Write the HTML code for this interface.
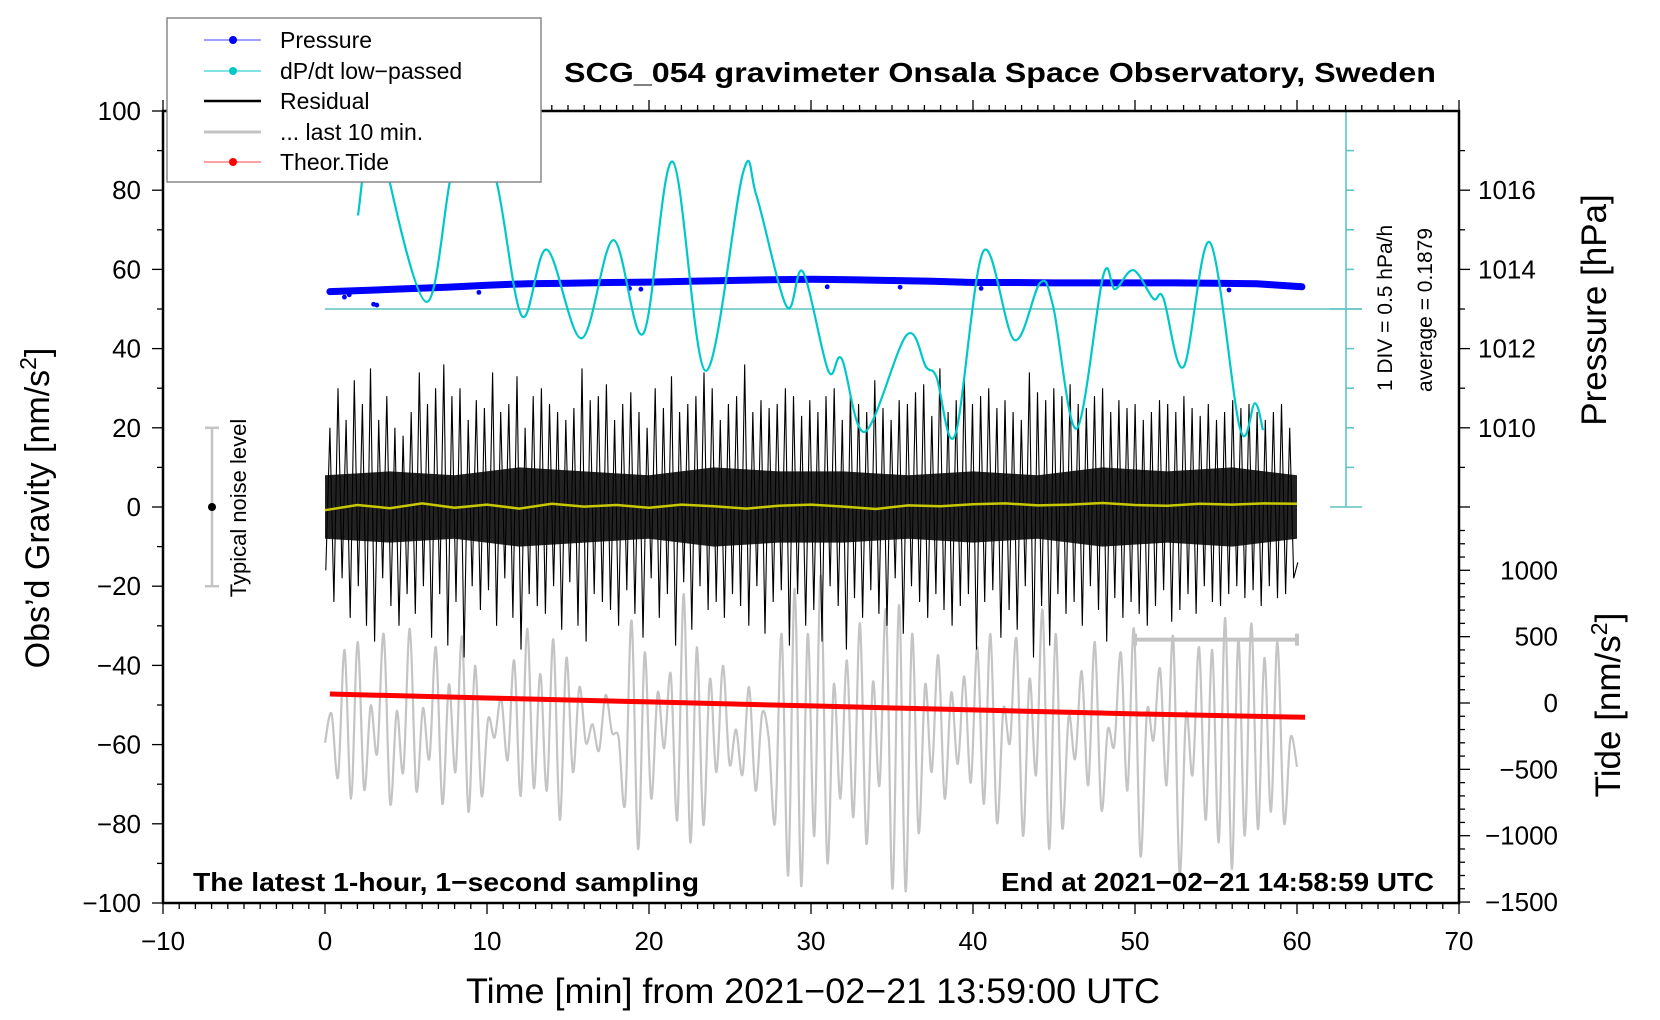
<!DOCTYPE html>
<html><head><meta charset="utf-8"><style>
html,body{margin:0;padding:0;background:#fff}
svg{display:block;font-family:"Liberation Sans",Arial,sans-serif}
</style></head><body>
<svg id="chart" width="1660" height="1020" viewBox="0 0 1660 1020" xmlns="http://www.w3.org/2000/svg">
<defs><clipPath id="plotclip"><rect x="163" y="111" width="1296" height="792"/></clipPath></defs>
<rect x="0" y="0" width="1660" height="1020" fill="#fff"/>
<g id="marks" clip-path="url(#plotclip)"></g>
<g id="axes"></g>
<g id="labels"></g>
</svg>
<script>
// ---- data ----
const cyanT = [2.04,3.2,4.0,6.28,7.7,8.8,10.6,12.16,13.7,15.84,17.8,19.65,21.46,23.5,25.8,26.65,28.5,29.5,31.07,31.9,33.33,35.9,37.1,37.75,38.9,40.64,42.55,44.14,44.95,46.4,48.04,48.77,49.9,51.13,51.75,53.0,54.63,56.48,57.4,57.9];
const cyanRate = [1.18,2.9,1.6,0.09,1.6,2.8,1.6,-0.09,0.75,-0.37,0.87,-0.31,1.86,-0.78,1.72,1.42,0.03,0.47,-0.78,-0.63,-1.55,-0.33,-0.73,-0.86,-1.59,0.73,-0.39,0.33,0.03,-1.51,0.42,0.25,0.49,0.13,0.14,-0.73,0.84,-1.51,-1.19,-1.53];
const pressT = [0.3,2.5,5,7.5,10,12.5,15,17.5,20,22.5,25,27.5,30,32.5,35,37.5,40,42.5,45,47.5,50,52.5,55,57.5,60.3];
const pressHPa = [1013.44,1013.47,1013.51,1013.55,1013.60,1013.64,1013.65,1013.67,1013.68,1013.70,1013.72,1013.74,1013.75,1013.74,1013.72,1013.70,1013.67,1013.67,1013.66,1013.66,1013.66,1013.66,1013.65,1013.64,1013.56];
const pressOutT = [1.2,1.5,3.0,3.2,9.5,18.8,19.5,31.0,35.5,40.5,55.8];
const pressOutHPa = [1013.30,1013.36,1013.12,1013.10,1013.42,1013.52,1013.50,1013.56,1013.55,1013.52,1013.48];
const tideT = [0.3,10,20,30,40,50,60.5];
const tideVal = [68,38,8,-22,-52,-82,-108];
const coreT = [0,4,8,12,16,20,24,28,32,36,40,44,48,52,56,60];
const coreAmp = [8,9,8,10,9,8,10,9,9,8,9,8,10,9,10,8];
const residual = [
-16,20,-24,30,-18,22,-28,32,-20,26,-30,35,-34,22,-18,28,-25,20,-30,18,
-22,24,-27,34,-20,26,-33,30,-22,36,-35,28,-24,30,-38,22,-20,27,-26,25,
-21,34,-30,24,-18,26,-28,33,-36,20,-22,28,-25,30,-27,26,-20,24,-31,22,
-19,25,-30,35,-34,27,-22,28,-24,31,-26,22,-30,26,-21,29,-27,24,-33,20,
-18,30,-28,25,-22,33,-35,24,-19,26,-31,28,-20,34,-26,30,-24,22,-28,26,
-22,28,-25,36,-30,24,-20,27,-32,25,-24,26,-21,30,-35,28,-22,23,-30,27,
-26,24,-34,28,-20,30,-25,22,-36,29,-23,26,-28,24,-21,32,-27,25,-30,22,
-18,27,-32,26,-20,29,-24,31,-28,23,-22,35,-26,24,-30,27,-25,33,-22,26,
-36,28,-24,30,-21,25,-33,27,-26,24,-31,22,-20,34,-38,29,-25,27,-35,30,
-22,28,-27,31,-24,26,-30,25,-20,28,-26,30,-34,24,-23,27,-28,25,-24,26,
-27,22,-30,24,-25,27,-21,26,-29,24,-26,28,-22,25,-27,23,-20,26,-24,22,
-25,24,-22,27,-20,25,-23,26,-21,24,-25,22,-20,24,-23,26,-22,20,-18,-14];
const yellowT = [0,2,4,6,8,10,12,14,16,18,20,22,24,26,28,30,32,34,36,38,40,42,44,46,48,50,52,54,56,58,60];
const yellowV = [-0.8,0.5,-0.3,0.9,-0.2,0.6,-0.4,0.8,0.1,0.5,-0.2,0.6,0.2,-0.4,0.3,0.6,0.1,-0.5,0.4,0.2,0.7,0.9,0.4,0.6,1.0,0.5,0.3,0.8,0.6,0.9,0.8];
const greyVals = [
-300,-80,-560,400,-720,460,-650,-20,-380,520,-760,-60,-520,560,-660,-40,-420,420,-760,140,
-520,500,-820,280,-700,-120,-260,40,-430,320,-700,560,-640,220,-660,480,-880,340,-520,120,
-300,-160,-360,60,-220,-260,-760,620,-1100,380,-720,80,-340,220,-880,820,-1050,420,-920,180,
-520,280,-460,-200,-540,120,-660,-80,-260,-900,520,-1300,860,-1380,520,-1000,960,-1200,140,-720,
320,-860,600,-1060,160,-620,700,-1400,740,-1420,520,-980,140,-520,360,-720,80,-460,200,-600,
420,-760,520,-900,-40,-300,480,-1000,180,-540,700,-1100,520,-940,-100,-420,240,-620,460,-800,
-200,-320,380,-660,560,-1150,-60,-280,260,-620,500,-1280,-80,-540,420,-880,400,-1050,640,-1250,
480,-1000,600,-950,340,-820,460,-900,-260,-480];
const xTicks = [-10,0,10,20,30,40,50,60,70];
const yTicks = [100,80,60,40,20,0,-20,-40,-60,-80,-100];
const pTicks = [1016,1014,1012,1010];
const tTicks = [1000,500,0,-500,-1000,-1500];

// ---- scales ----
const NS='http://www.w3.org/2000/svg';
const xs = t => 325 + t*16.2;
const yg = g => 507 - g*3.96;
const yp = p => yg(80 + (p-1016)*10);
const yt = v => 703 - v*0.1327;
const yc = r => yg(50 + r*20);
const greyT = i => i*60/(greyVals.length-1);
const residT = i => 0.05 + i*60/(residual.length-1);

function mk(tag, attrs, parent){const e=document.createElementNS(NS,tag);for(const k in attrs)e.setAttribute(k,attrs[k]);parent.appendChild(e);return e;}
function smooth(pts){let d='M'+pts[0][0].toFixed(1)+','+pts[0][1].toFixed(1);
 for(let i=0;i<pts.length-1;i++){const p0=pts[Math.max(0,i-1)],p1=pts[i],p2=pts[i+1],p3=pts[Math.min(pts.length-1,i+2)];
 const c1=[p1[0]+(p2[0]-p0[0])/6,p1[1]+(p2[1]-p0[1])/6],c2=[p2[0]-(p3[0]-p1[0])/6,p2[1]-(p3[1]-p1[1])/6];
 d+=` C${c1[0].toFixed(1)},${c1[1].toFixed(1)} ${c2[0].toFixed(1)},${c2[1].toFixed(1)} ${p2[0].toFixed(1)},${p2[1].toFixed(1)}`;}return d;}
function lin(pts){return 'M'+pts.map(p=>p[0].toFixed(1)+','+p[1].toFixed(1)).join(' L');}

const marks=document.getElementById('marks'), axes=document.getElementById('axes'), labels=document.getElementById('labels');

let e=mk('line',{x1:xs(0),y1:yc(0),x2:1362,y2:yc(0),stroke:'#5fc4c4','stroke-width':1.6},marks);



e=mk('path',{d:smooth(greyVals.map((v,i)=>[xs(greyT(i)),yt(v)])),fill:'none',stroke:'#c4c4c4','stroke-width':2.2},marks);



const up=coreT.map((t,i)=>[xs(t),yg(coreAmp[i])]), dn=coreT.map((t,i)=>[xs(t),yg(-coreAmp[i])]).reverse();
e=mk('path',{d:lin(up.concat(dn))+'Z',fill:'#222'},marks);


e=mk('path',{d:lin(residual.map((v,i)=>[xs(residT(i)),yg(v)])),fill:'none',stroke:'#000','stroke-width':1.1},marks);


e=mk('path',{d:lin(yellowT.map((t,i)=>[xs(t),yg(yellowV[i])])),fill:'none',stroke:'#c8c800','stroke-width':2.5},marks);



e=mk('path',{d:lin(tideT.map((t,i)=>[xs(t),yt(tideVal[i])])),fill:'none',stroke:'#ff0000','stroke-width':5},marks);



e=mk('path',{d:lin(pressT.map((t,i)=>[xs(t),yp(pressHPa[i])])),fill:'none',stroke:'#0000ff','stroke-width':7,'stroke-linecap':'round'},marks);


pressOutT.forEach((t,i)=>{const c=mk('circle',{cx:xs(t),cy:yp(pressOutHPa[i]),r:2.4,fill:'#0000ff'},marks);

});

e=mk('path',{d:smooth(cyanT.map((t,i)=>[xs(t),yc(cyanRate[i])])),fill:'none',stroke:'#00c8c8','stroke-width':2.2},marks);



const sb=mk('g',{stroke:'#5fc4c4','stroke-width':1.6},axes);


mk('line',{x1:1346,y1:111,x2:1346,y2:507},sb);
for(let k=0;k<=10;k++){const y=111+k*39.6;const long=(k===0||k===5||k===10);mk('line',{x1:long?1330:1346,y1:y,x2:long?1362:1354,y2:y},sb);}

const gb=mk('g',{stroke:'#c4c4c4','stroke-width':4},marks);


mk('line',{x1:xs(50),y1:yg(-33.5),x2:xs(60),y2:yg(-33.5)},gb);
mk('line',{x1:xs(50),y1:yg(-33.5)-6,x2:xs(50),y2:yg(-33.5)+6},gb);
mk('line',{x1:xs(60),y1:yg(-33.5)-6,x2:xs(60),y2:yg(-33.5)+6},gb);

const nb=mk('g',{stroke:'#c4c4c4','stroke-width':2.5},axes);


mk('line',{x1:212,y1:yg(20),x2:212,y2:yg(-20)},nb);
mk('line',{x1:205,y1:yg(20),x2:219,y2:yg(20)},nb);
mk('line',{x1:205,y1:yg(-20),x2:219,y2:yg(-20)},nb);
mk('circle',{cx:212,cy:yg(0),r:4,fill:'#000',stroke:'none'},nb);

e=mk('rect',{x:163,y:111,width:1296,height:792,fill:'none',stroke:'#000','stroke-width':2.5},axes);


const tk=mk('g',{stroke:'#000','stroke-width':1.3},axes);


for(let t=-10;t<=70;t++){const x=xs(t),M=(t%10===0);mk('line',{x1:x,y1:903,x2:x,y2:903+(M?11:6)},tk);mk('line',{x1:x,y1:111,x2:x,y2:111-(M?11:6)},tk);}
for(let g=-100;g<=100;g+=10){const y=yg(g),M=(g%20===0);mk('line',{x1:163,y1:y,x2:163-(M?11:6),y2:y},tk);}
for(let p=1008;p<=1017;p++){const y=yp(p),M=(p%2===0);mk('line',{x1:1459,y1:y,x2:1459+(M?11:6),y2:y},tk);}
for(let v=-1500;v<=1300;v+=100){const y=yt(v),M=(v%500===0);mk('line',{x1:1459,y1:y,x2:1459+(M?11:6),y2:y},tk);}

function txt(s,attrs,name){const t=mk('text',attrs,labels);t.textContent=s;return t;}
xTicks.forEach(v=>txt(v<0?'\u2212'+(-v):String(v),{x:xs(v),y:950,'font-size':26,'text-anchor':'middle'},'x-tick-label'));
yTicks.forEach(v=>txt(v<0?'\u2212'+(-v):String(v),{x:141,y:yg(v)+9,'font-size':26,'text-anchor':'end'},'y-tick-label'));
pTicks.forEach(v=>txt(String(v),{x:1478,y:yp(v)+9,'font-size':26,'text-anchor':'start'},'pressure-tick-label'));
tTicks.forEach(v=>txt(v<0?'\u2212'+(-v):String(v),{x:1558,y:yt(v)+9,'font-size':26,'text-anchor':'end'},'tide-tick-label'));
</script>
<script>
(function(){
const NS='http://www.w3.org/2000/svg';
const svg=document.getElementById('chart');
const g=document.createElementNS(NS,'g');svg.appendChild(g);


g.innerHTML=`
<text x="1000" y="82" font-size="28" font-weight="bold" text-anchor="middle" textLength="872" lengthAdjust="spacingAndGlyphs">SCG_054 gravimeter Onsala Space Observatory, Sweden</text>
<text x="813" y="1003" font-size="35" text-anchor="middle" textLength="694" lengthAdjust="spacingAndGlyphs">Time [min] from 2021−02−21 13:59:00 UTC</text>
<text transform="translate(49,508) rotate(-90)" font-size="34" text-anchor="middle">Obs’d Gravity [nm/s<tspan dy="-13" font-size="23">2</tspan><tspan dy="13">]</tspan></text>
<text transform="translate(1606,310) rotate(-90)" font-size="35" text-anchor="middle">Pressure [hPa]</text>
<text transform="translate(1620,705) rotate(-90)" font-size="35" text-anchor="middle">Tide [nm/s<tspan dy="-13" font-size="23">2</tspan><tspan dy="13">]</tspan></text>
<text transform="translate(1392,308) rotate(-90)" font-size="21" text-anchor="middle">1 DIV = 0.5 hPa/h</text>
<text transform="translate(1432,310) rotate(-90)" font-size="21" text-anchor="middle">average = 0.1879</text>
<text transform="translate(246,508) rotate(-90)" font-size="22" text-anchor="middle">Typical noise level</text>
<text x="193" y="891" font-size="26" font-weight="bold" textLength="506" lengthAdjust="spacingAndGlyphs">The latest 1-hour, 1−second sampling</text>
<text x="1001" y="891" font-size="26" font-weight="bold" textLength="433" lengthAdjust="spacingAndGlyphs">End at 2021−02−21 14:58:59 UTC</text>
<g>
<rect x="167" y="18" width="374" height="164" fill="#fff" stroke="#888" stroke-width="1.5"/>
<g><line x1="204" y1="40" x2="261" y2="40" stroke="#4040ff" stroke-width="1"/><circle cx="233" cy="40" r="4" fill="#0000ff"/><text x="280" y="48" font-size="23">Pressure</text></g>
<g><line x1="204" y1="71" x2="261" y2="71" stroke="#00c8c8" stroke-width="1"/><circle cx="233" cy="71" r="4" fill="#00c8c8"/><text x="280" y="79" font-size="23">dP/dt low−passed</text></g>
<g><line x1="204" y1="101" x2="261" y2="101" stroke="#000" stroke-width="2.5"/><text x="280" y="109" font-size="23">Residual</text></g>
<g><line x1="204" y1="132" x2="261" y2="132" stroke="#c4c4c4" stroke-width="3"/><text x="280" y="140" font-size="23">... last 10 min.</text></g>
<g><line x1="204" y1="162" x2="261" y2="162" stroke="#ff4040" stroke-width="1"/><circle cx="233" cy="162" r="4" fill="#ff0000"/><text x="280" y="170" font-size="23">Theor.Tide</text></g>
</g>`;
})();
</script>
</body></html>
